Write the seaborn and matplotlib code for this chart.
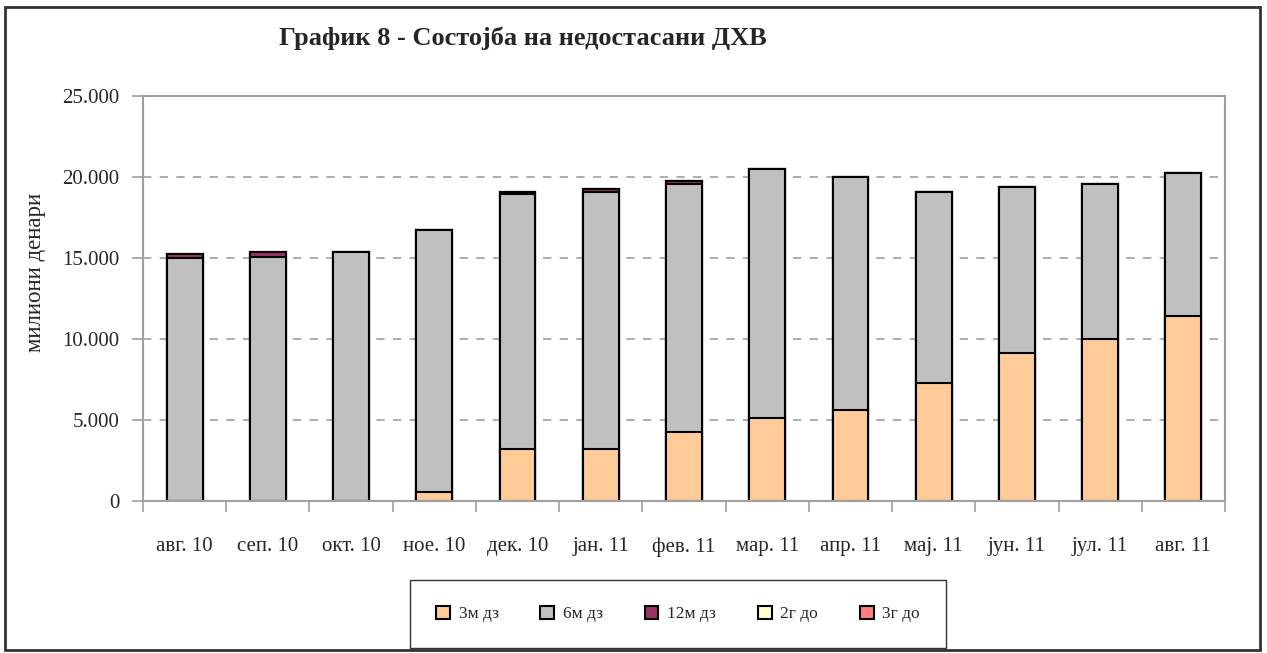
import numpy as np
import matplotlib
matplotlib.use("Agg")
import matplotlib.pyplot as plt
import matplotlib.ticker as mticker
import seaborn as sns
import pandas as pd

sns.set_theme(style="white")
plt.rcParams['font.family'] = ['Liberation Serif', 'DejaVu Serif']

months = ["авг. 10", "сеп. 10", "окт. 10", "ное. 10", "дек. 10", "јан. 11", "фев. 11",
          "мар. 11", "апр. 11", "мај. 11", "јун. 11", "јул. 11", "авг. 11"]
# milioni denari
m3_dz = [0, 0, 0, 580, 3230, 3230, 4230, 5130, 5630, 7270, 9150, 9980, 11400]
m6_dz = [14970, 15080, 15400, 16170, 15710, 15870, 15320, 15340, 14350, 11830, 10220, 9610, 8830]
m12_dz = [300, 320, 0, 0, 160, 140, 180, 0, 0, 0, 0, 0, 0]
g2_do = [0, 0, 0, 0, 0, 0, 0, 0, 0, 0, 0, 0, 0]
g3_do = [0, 0, 0, 0, 0, 0, 0, 0, 0, 0, 0, 0, 0]

series = ["3м дз", "6м дз", "12м дз", "2г до", "3г до"]
colors = ["#FFCC99", "#C0C0C0", "#993366", "#FFFFCC", "#FF8080"]

vals = np.array([m3_dz, m6_dz, m12_dz, g2_do, g3_do], dtype=float)
cum = np.cumsum(vals, axis=0)

fig = plt.figure(figsize=(12.67, 6.53), dpi=100)
ax = fig.add_axes([143 / 1267, 1 - 501 / 653, (1225 - 143) / 1267, (501 - 96) / 653])

grey = "#a0a0a0"
ax.yaxis.grid(True, color=grey, linestyle=(0, (5, 5)), linewidth=1.2)
ax.set_axisbelow(True)

# stacked bars: draw cumulative totals from the top layer down
for i in range(len(series) - 1, -1, -1):
    df = pd.DataFrame({"Месец": months, "Вредност": cum[i]})
    sns.barplot(data=df, x="Месец", y="Вредност", color=colors[i], width=0.43,
                edgecolor="black", linewidth=1.5, saturation=1, ax=ax)

ax.set_ylim(0, 25000)
ax.set_xlim(-0.5, len(months) - 0.5)
ax.yaxis.set_major_locator(mticker.MultipleLocator(5000))
ax.yaxis.set_major_formatter(mticker.FuncFormatter(lambda v, p: f"{int(v):,}".replace(",", ".")))

for s in ax.spines.values():
    s.set_visible(True)
    s.set_color(grey)
    s.set_linewidth(1.5)

ax.set_xlabel("")
ax.set_ylabel("милиони денари", fontsize=16.5)
ax.yaxis.set_label_coords(-0.09, 0.565)
ax.tick_params(axis="y", which="major", length=8, width=1.2, color=grey, pad=9,
               labelsize=15, left=True, direction="out")
ax.set_xticks(range(len(months)))
ax.set_xticklabels(months)
ax.set_xticks(np.arange(-0.5, len(months), 1.0), minor=True)
ax.tick_params(axis="x", which="major", length=0, pad=26, labelsize=15)
ax.tick_params(axis="x", which="minor", length=8, width=1.2, color=grey, bottom=True,
               direction="out")

fig.text(0.413, 0.941, "График 8 - Состојба на недостасани ДХВ", ha="center", va="center",
         fontsize=19, fontweight="bold")

handles = [plt.Rectangle((0, 0), 1, 1, facecolor=c, edgecolor="black", linewidth=1.5)
           for c in colors]
leg = fig.legend(handles, series, loc="center", bbox_to_anchor=(678 / 1267, 1 - 614 / 653),
                 ncol=5, frameon=True, fontsize=12.5, handlelength=0.8, handleheight=0.8,
                 columnspacing=2.4, handletextpad=0.5, borderpad=1.5, fancybox=False)
leg.get_frame().set_edgecolor("black")
leg.get_frame().set_linewidth(1.0)

fig.patches.append(plt.Rectangle((5 / 1267, 3 / 653), 1255 / 1267, 643 / 653,
                                 transform=fig.transFigure, fill=False,
                                 edgecolor="#333333", linewidth=2))

fig.savefig("out.png", dpi=100)
